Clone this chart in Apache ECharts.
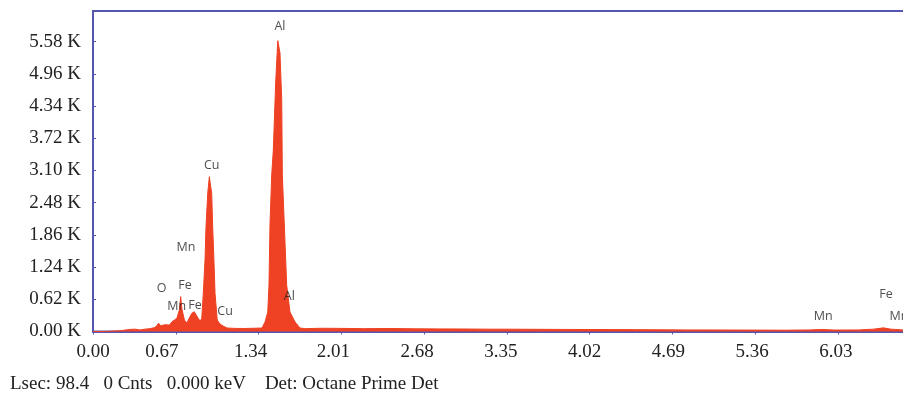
<!DOCTYPE html>
<html>
<head>
<meta charset="utf-8">
<script src="https://cdn.jsdelivr.net/npm/echarts@6/dist/echarts.min.js"></script>
<style>
  html, body { margin: 0; padding: 0; background: #fff; }
  #chart { width: 903px; height: 402px; }
</style>
</head>
<body>
<div id="chart"></div>
<script>
// spectrum (keV / counts)
const energy = [0.00, 0.10, 0.14, 0.22, 0.30, 0.34, 0.38, 0.42, 0.46, 0.50, 0.52, 0.53, 0.55, 0.58, 0.62, 0.64,
  0.66, 0.68, 0.70, 0.71, 0.72, 0.74, 0.76, 0.78, 0.80, 0.82, 0.84, 0.86, 0.88, 0.893, 0.907, 0.915, 0.929,
  0.942, 0.951, 0.961, 0.969, 0.979, 0.988, 1.006, 1.028, 1.053, 1.085, 1.15, 1.22, 1.30, 1.368, 1.393, 1.415,
  1.425, 1.433, 1.447, 1.460, 1.479, 1.496, 1.514, 1.528, 1.533, 1.549, 1.568, 1.595, 1.636, 1.676, 1.72,
  1.85, 2.0, 2.2, 2.4, 2.6, 2.8, 3.0, 3.2, 3.4, 3.6, 3.8, 4.0, 4.2, 4.4, 4.6, 4.8, 5.0, 5.2, 5.4, 5.6, 5.8,
  5.9, 6.0, 6.2, 6.32, 6.40, 6.46, 6.56, 6.70]
const counts = [0, 0, 5, 15, 40, 45, 30, 45, 55, 75, 120, 160, 110, 130, 125, 190,
  220, 260, 420, 670, 430, 220, 165, 260, 350, 380, 300, 220, 221, 735, 1376, 2017, 2660,
  2980, 2820, 2660, 2017, 1376, 735, 221, 144, 106, 67, 60, 58, 62, 67, 183, 375,
  895, 2050, 3013, 3494, 4784, 5598, 5361, 4456, 3013, 2050, 895, 375, 183, 67, 55,
  62, 60, 55, 58, 52, 50, 48, 45, 44, 42, 40, 38, 37, 35, 33, 30, 30, 28, 27, 25, 30,
  40, 28, 30, 45, 70, 45, 30, 28]

// element markers
const peakNames = ['Al', 'Al', 'Cu', 'Cu', 'Mn', 'O', 'Fe', 'Mn', 'Fe', 'Mn', 'Fe', 'Mn']
const peakKeV = [1.514, 1.589, 0.961, 1.069, 0.753, 0.556, 0.745, 0.678, 0.826, 5.913, 6.421, 6.526]
const peakCnt = [5867, 670, 3205, 381, 1621, 832, 895, 477, 510, 285, 722, 285]

const statusLine = 'Lsec: 98.4   0 Cnts   0.000 keV    Det: Octane Prime Det'

const frame = '#5656b0'
const red = '#ef4123'
const serif = 'Liberation Serif'

// the original software draws the keV labels a little left of their ticks
const labelNudge = [0, 14, 8, 8, 7, 6, 5, 4, 3, 2]
const rich = {}
labelNudge.forEach((n, i) => {
  rich['s' + i] = { fontFamily: serif, fontSize: 19, color: '#222', padding: [0, n * 2, 0, 0] }
})

let chart = echarts.init(document.getElementById('chart'))

chart.setOption({
  animation: false,
  grid: {
    left: 93,
    top: 11,
    width: 827.5,
    height: 320.5,
    outerBoundsMode: 'none',
    containLabel: false,
    show: true,
    borderColor: frame,
    borderWidth: 2,
  },
  xAxis: {
    type: 'value',
    min: 0,
    max: 6.70,
    interval: 0.67,
    splitLine: { show: false },
    axisLine: { lineStyle: { color: frame, width: 2 } },
    axisTick: { length: 3, lineStyle: { color: frame } },
    axisLabel: {
      margin: 11,
      fontFamily: serif,
      fontSize: 19,
      color: '#222',
      rich: rich,
      formatter: (v) => {
        if (v > 6.5) return ''
        const i = Math.round(v / 0.67)
        return '{s' + i + '|' + v.toFixed(2) + '}'
      },
    },
  },
  yAxis: {
    type: 'value',
    min: 0,
    max: 6170,
    interval: 620,
    splitLine: { show: false },
    axisLine: { lineStyle: { color: frame, width: 2 } },
    axisTick: { inside: true, length: 3, lineStyle: { color: frame } },
    axisLabel: {
      margin: 12,
      fontFamily: serif,
      fontSize: 19,
      color: '#222',
      formatter: (v) => (v > 5600 || v % 620 ? '' : (v / 1000).toFixed(2) + ' K'),
    },
  },
  series: [
    {
      type: 'line',
      data: energy.map((e, i) => [e, counts[i]]),
      showSymbol: false,
      lineStyle: { color: red, width: 1 },
      areaStyle: { color: red, opacity: 1 },
      z: 2,
    },
    {
      type: 'scatter',
      symbolSize: 0,
      data: peakNames.map((n, i) => ({ name: n, value: [peakKeV[i], peakCnt[i]] })),
      label: {
        show: true,
        position: 'inside',
        formatter: '{b}',
        fontFamily: 'Open Sans',
        fontSize: 12.5,
        color: '#222',
      },
      z: 5,
    },
  ],
  graphic: [
    {
      type: 'text',
      left: 10,
      top: 375,
      style: { text: statusLine, font: '19px "Liberation Serif"', fill: '#222' },
    },
  ],
})
</script>
</body>
</html>
